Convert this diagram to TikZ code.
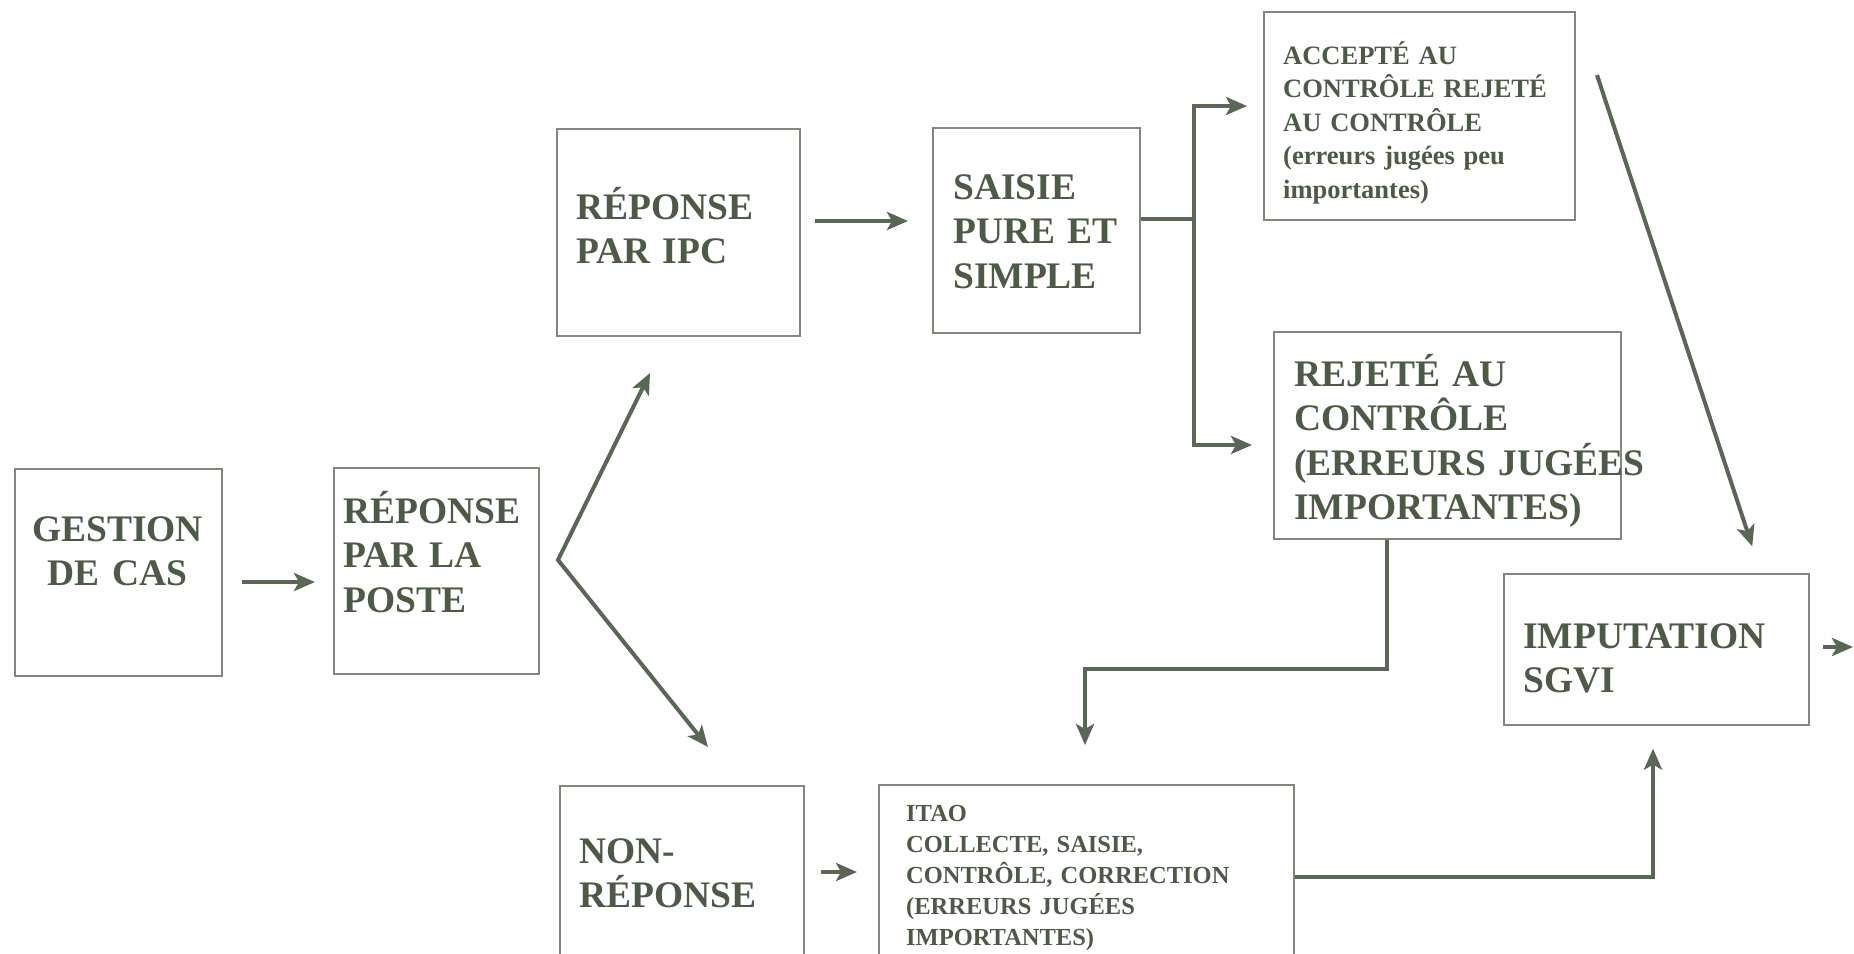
\documentclass[tikz,border=0pt]{standalone}
\usepackage{fontspec}
\setmainfont{Liberation Serif}
\usetikzlibrary{arrows.meta,calc}

\definecolor{inkc}{RGB}{76,90,70}
\definecolor{linec}{RGB}{90,102,86}
\definecolor{framec}{RGB}{128,138,122}

\tikzset{
  box/.style={draw=framec, line width=1.6pt, rectangle, inner sep=0pt, anchor=north west},
  big/.style={text=inkc, inner sep=0pt, anchor=base west, text width=420pt, align=left,
    font=\fontsize{37.5pt}{44.5pt}\selectfont\bfseries},
  small/.style={text=inkc, inner sep=0pt, anchor=base west, text width=420pt, align=left,
    font=\fontsize{26.5pt}{33.5pt}\selectfont\bfseries},
  smaller/.style={small, font=\fontsize{24.5pt}{31pt}\selectfont\bfseries},
  link/.style={draw=linec, line width=4pt},
  arr/.style={link, -{Stealth[length=21pt,width=18pt,inset=5pt]}},
}

\begin{document}
\begin{tikzpicture}[x=1pt,y=-1pt]
\clip (0,0) rectangle (1854,953);
\fill[white] (0,0) rectangle (1854,953);

% boxes
\node[box, minimum width=207pt, minimum height=207pt] (gestion) at (14,468) {};
\node[box, minimum width=205pt, minimum height=206pt] (poste)   at (333,467) {};
\node[box, minimum width=243pt, minimum height=207pt] (ipc)     at (556,128) {};
\node[box, minimum width=207pt, minimum height=205pt] (saisie)  at (932,127) {};
\node[box, minimum width=311pt, minimum height=208pt] (accepte) at (1263,11) {};
\node[box, minimum width=347pt, minimum height=207pt] (rejete)  at (1273,331) {};
\node[box, minimum width=305pt, minimum height=151pt] (imput)   at (1503,573) {};
\node[box, minimum width=244pt, minimum height=200pt] (nonrep)  at (559,785) {};
\node[box, minimum width=415pt, minimum height=200pt] (itao)    at (878,784) {};

% labels
\node[big, anchor=base, align=center, text width=207pt] (gestiontxt) at (117.5,541) {GESTION\\DE CAS};
\node[big] (postetxt)   at (343,523)  {RÉPONSE\\PAR LA\\POSTE};
\node[big] (ipctxt)     at (576,219)  {RÉPONSE\\PAR IPC};
\node[big] (saisietxt)  at (953,199)  {SAISIE\\PURE ET\\SIMPLE};
\node[small] (acceptetxt) at (1283,64) {ACCEPTÉ AU\\CONTRÔLE REJETÉ\\AU CONTRÔLE\\(erreurs jugées peu\\importantes)};
\node[big] (rejetetxt)  at (1294,386) {REJETÉ AU\\CONTRÔLE\\(ERREURS JUGÉES\\IMPORTANTES)};
\node[big] (imputtxt)   at (1523,648) {IMPUTATION\\SGVI};
\node[big] (nonreptxt)  at (579,863)  {NON-\\RÉPONSE};
\node[smaller] (itaotxt) at (906,821) {ITAO\\COLLECTE, SAISIE,\\CONTRÔLE, CORRECTION\\(ERREURS JUGÉES\\IMPORTANTES)};

% free ends and junctions
\coordinate (fork)    at (558,560);
\coordinate (toipc)   at (650,373);
\coordinate (tonon)   at (708,747);
\coordinate (br)      at (1194,219);
\coordinate (dstart)  at (1597,75);
\coordinate (out)     at (1853,647);

% connectors
\draw[arr, shorten <=19pt, shorten >=18pt] (gestion.east |- 0,582) -- (poste.west |- 0,582);
\draw[link, {Stealth[length=21pt,width=18pt,inset=5pt]}-{Stealth[length=21pt,width=18pt,inset=5pt]}, line join=miter]
  (toipc) -- (fork) -- (tonon);
\draw[arr, shorten <=14pt, shorten >=24pt] (ipc.east |- 0,221) -- (saisie.west |- 0,221);
\draw[link] (saisie.east |- br) -- (br);
\draw[arr, shorten >=16pt] (br) |- (accepte.west |- 0,106);
\draw[arr, shorten >=21pt] (br) |- (rejete.west |- 0,445);
\draw[arr, shorten >=28pt] (dstart) -- (imput.north -| 1761,0);
\draw[arr, shorten >=39pt] (rejete.south -| 1387,0) -- (1387,669) -| (itao.north -| 1085,0);
\draw[arr, shorten <=16pt, shorten >=21pt] (nonrep.east |- 0,872) -- (itao.west |- 0,872);
\draw[arr, shorten >=23pt] (itao.east |- 0,877) -| (imput.south -| 1653,0);
\draw[arr, shorten <=13pt] (imput.east |- 0,647) -- (out);

\end{tikzpicture}
\end{document}
